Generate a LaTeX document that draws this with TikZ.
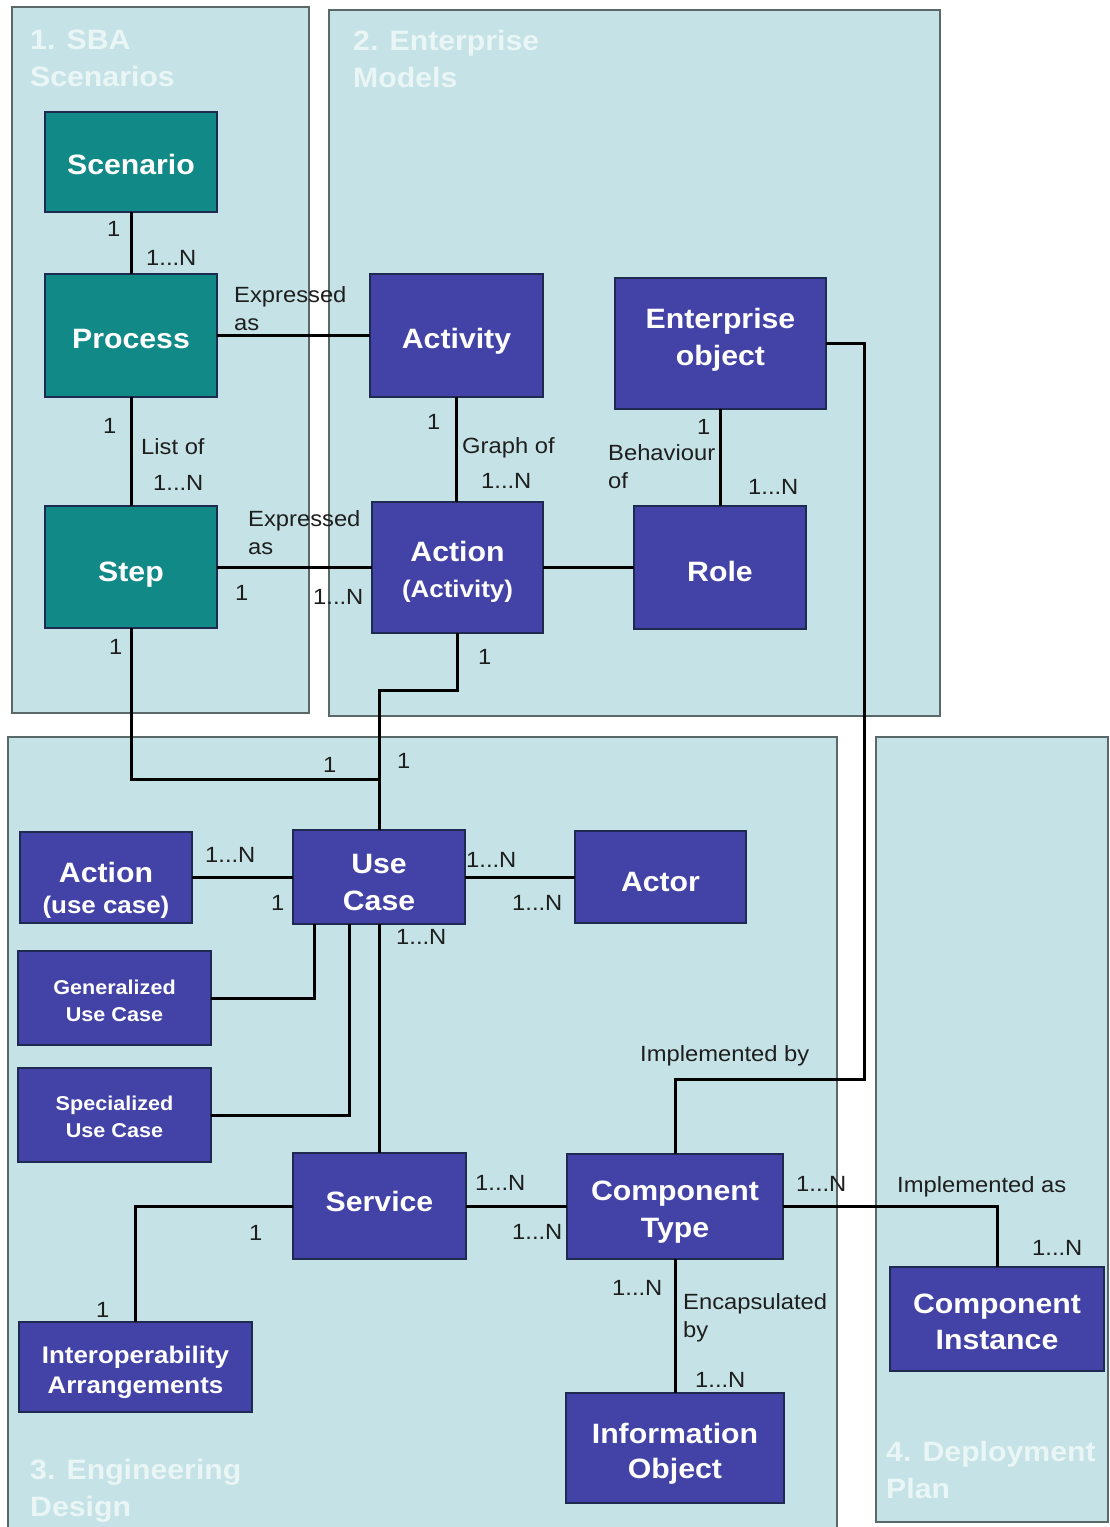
\documentclass[tikz,border=0pt]{standalone}
\usepackage{fontspec}
\setmainfont{Liberation Sans}[FakeStretch=1.08]
\definecolor{panelfill}{HTML}{C5E3E6}
\definecolor{tealbox}{HTML}{118A87}
\definecolor{bluebox}{HTML}{4343A7}
\definecolor{boxline}{HTML}{1E2A50}
\definecolor{panelline}{HTML}{5A6868}
\definecolor{titlecol}{HTML}{EAF5F6}
\definecolor{labcol}{HTML}{1E1E1E}
\newcommand\myTop[1]{\rule{0pt}{#1pt}}
\newcommand\myBot[1]{\rule[-#1pt]{0pt}{#1pt}}
\tikzset{
  panel/.style={fill=panelfill, draw=panelline, line width=1.8pt},
  basebox/.style={draw=boxline, line width=1.5pt, inner sep=0pt, outer sep=0pt, text=white, align=center},
  fbig/.style={font=\bfseries\fontsize{28}{#1}\selectfont},
  tb/.style 2 args={execute at begin node={\rule{0pt}{#1pt}}, execute at end node={\rule[-#2pt]{0pt}{#2pt}}},
  tbox/.style={basebox, fill=tealbox, fbig=37},
  bbox/.style={basebox, fill=bluebox, fbig=37},
  conn/.style={draw=black, line width=3pt},
  lab/.style={anchor=west, inner sep=0pt, text=labcol, align=left, font=\fontsize{22}{28}\selectfont},
  ptitle/.style={anchor=west, inner sep=0pt, text=titlecol, align=left, font=\bfseries\fontsize{28}{37}\selectfont},
}
\begin{document}
\begin{tikzpicture}[x=1pt, y=-1pt]
\useasboundingbox (0,0) rectangle (1110,1527);
\fill[white] (0,0) rectangle (1110,1527);
% panels
\draw[panel] (12,7) rectangle (309,713);
\draw[panel] (329,10) rectangle (940,716);
\draw[panel] (8,737) rectangle (837,1532);
\draw[panel] (876,737) rectangle (1108,1522);
% panel titles
\node[ptitle] (t1) at (30,58.5) {1. SBA\\Scenarios};
\node[ptitle] (t2) at (353,58.5) {2. Enterprise\\Models};
\node[ptitle] (t3) at (30,1490.5) {3. Engineering\\Design};
\node[ptitle] (t4) at (886,1470) {4. Deployment\\Plan};
% boxes (single line)
\node[tbox, tb={32}{8}, minimum width=172pt, minimum height=100pt] (scen) at (131,162) {Scenario};
\node[tbox, tb={33}{8}, minimum width=172pt, minimum height=123pt] (proc) at (131,335.5) {Process};
\node[tbox, tb={36}{8}, minimum width=172pt, minimum height=122pt] (step) at (131,567) {Step};
\node[bbox, tb={33}{8}, minimum width=173pt, minimum height=123pt] (act) at (456.5,335.5) {Activity};
\node[bbox, tb={35}{8}, minimum width=172pt, minimum height=123pt] (role) at (720,567.5) {Role};
\node[bbox, tb={36}{8}, minimum width=171pt, minimum height=92pt] (actor) at (660.5,877) {Actor};
\node[bbox, tb={22}{12}, minimum width=173pt, minimum height=106pt] (serv) at (379.5,1206) {Service};
% boxes (two lines)
\node[bbox, minimum width=211pt, minimum height=131pt] (eo) at (720.5,343.5) {\myTop{22}Enterprise\\object\myBot{16}};
\node[bbox, fbig=36, minimum width=171pt, minimum height=131pt] (actn) at (457.5,567.5) {\myTop{31}Action\\{\fontsize{24}{36}\selectfont(Activity)}\myBot{8}};
\node[bbox, fbig=31, minimum width=172pt, minimum height=91pt] (auc) at (106,877.5) {\myTop{46}Action\\{\fontsize{24}{31}\selectfont(use case)}\myBot{6}};
\node[bbox, minimum width=172pt, minimum height=94pt] (uc) at (379,877) {\myTop{37}Use\\Case\myBot{8}};
\node[bbox, font=\bfseries\fontsize{20}{27}\selectfont, minimum width=193pt, minimum height=94pt] (gen) at (114.5,998) {\myTop{25}Generalized\\Use Case\myBot{6}};
\node[bbox, font=\bfseries\fontsize{20}{27}\selectfont, minimum width=193pt, minimum height=94pt] (spec) at (114.5,1115) {\myTop{23}Specialized\\Use Case\myBot{6}};
\node[bbox, font=\bfseries\fontsize{24}{30}\selectfont, minimum width=233pt, minimum height=90pt] (ia) at (135.5,1367) {\myTop{29}Interoperability\\Arrangements\myBot{7}};
\node[bbox, minimum width=216pt, minimum height=105pt] (ct) at (675,1206.5) {\myTop{32}Component\\Type\myBot{8}};
\node[bbox, fbig=35, minimum width=218pt, minimum height=110pt] (io) at (675,1448) {\myTop{33}Information\\Object\myBot{8}};
\node[bbox, fbig=36, minimum width=214pt, minimum height=104pt] (ci) at (997,1319) {\myTop{32}Component\\Instance\myBot{8}};
% connectors
\coordinate (eoturn) at (864,1079);
\coordinate (stepjoin) at (379,779);
\draw[conn] (scen.south) -- (proc.north);
\draw[conn] (proc.south) -- (step.north);
\draw[conn] (proc.east) -- (proc.east -| act.west);
\draw[conn] (act.south) -- (act.south |- actn.north);
\draw[conn] (eo.south) -- (eo.south |- role.north);
\draw[conn] (step.east) -- (step.east -| actn.west);
\draw[conn] (actn.east) -- (actn.east -| role.west);
\draw[conn] (eo.east) -| (eoturn) -| (ct.north);
\draw[conn] (step.south) |- (stepjoin);
\draw[conn] (actn.south) -- ++(0,57) -| (uc.north);
\draw[conn] (auc.east) -- (auc.east -| uc.west);
\draw[conn] (uc.east) -- (actor.west);
\draw[conn] (gen.east) -| ([xshift=-65pt]uc.south);
\draw[conn] (spec.east) -| ([xshift=-30pt]uc.south);
\draw[conn] (uc.south) -- (serv.north -| uc.south);
\draw[conn] (serv.west) -| (ia.north);
\draw[conn] (serv.east) -- (serv.east -| ct.west);
\draw[conn] (ct.east) -| (ci.north);
\draw[conn] (ct.south) -- (io.north);
% labels
\node[lab] (l1) at (107,229) {1};
\node[lab] (l2) at (146,258) {1...N};
\node[lab] (l3) at (234,309) {Expressed\\as};
\node[lab] (l4) at (103,426) {1};
\node[lab] (l5) at (141,447) {List of};
\node[lab] (l6) at (153,483) {1...N};
\node[lab] (l7) at (427,422) {1};
\node[lab] (l8) at (462,448) {Graph of};
\node[lab] (l9) at (481,481) {1...N};
\node[lab] (l10) at (697,427) {1};
\node[lab] (l11) at (608,467) {Behaviour\\of};
\node[lab] (l12) at (748,487) {1...N};
\node[lab] (l13) at (248,532.5) {Expressed\\as};
\node[lab] (l14) at (235,593) {1};
\node[lab] (l15) at (313,597) {1...N};
\node[lab] (l16) at (109,647) {1};
\node[lab] (l17) at (478,657) {1};
\node[lab] (l18) at (323,765) {1};
\node[lab] (l19) at (397,761) {1};
\node[lab] (l20) at (205,855) {1...N};
\node[lab] (l21) at (271,903) {1};
\node[lab] (l22) at (466,860) {1...N};
\node[lab] (l23) at (512,903) {1...N};
\node[lab] (l24) at (396,937) {1...N};
\node[lab] (l25) at (640,1056) {Implemented by};
\node[lab] (l26) at (475,1183) {1...N};
\node[lab] (l27) at (512,1232) {1...N};
\node[lab] (l28) at (249,1233) {1};
\node[lab] (l29) at (96,1310) {1};
\node[lab] (l30) at (796,1184) {1...N};
\node[lab] (l31) at (897,1187) {Implemented as};
\node[lab] (l32) at (1032,1248) {1...N};
\node[lab] (l33) at (612,1288) {1...N};
\node[lab] (l34) at (683,1318) {Encapsulated\\by};
\node[lab] (l35) at (695,1380) {1...N};
\end{tikzpicture}
\end{document}
